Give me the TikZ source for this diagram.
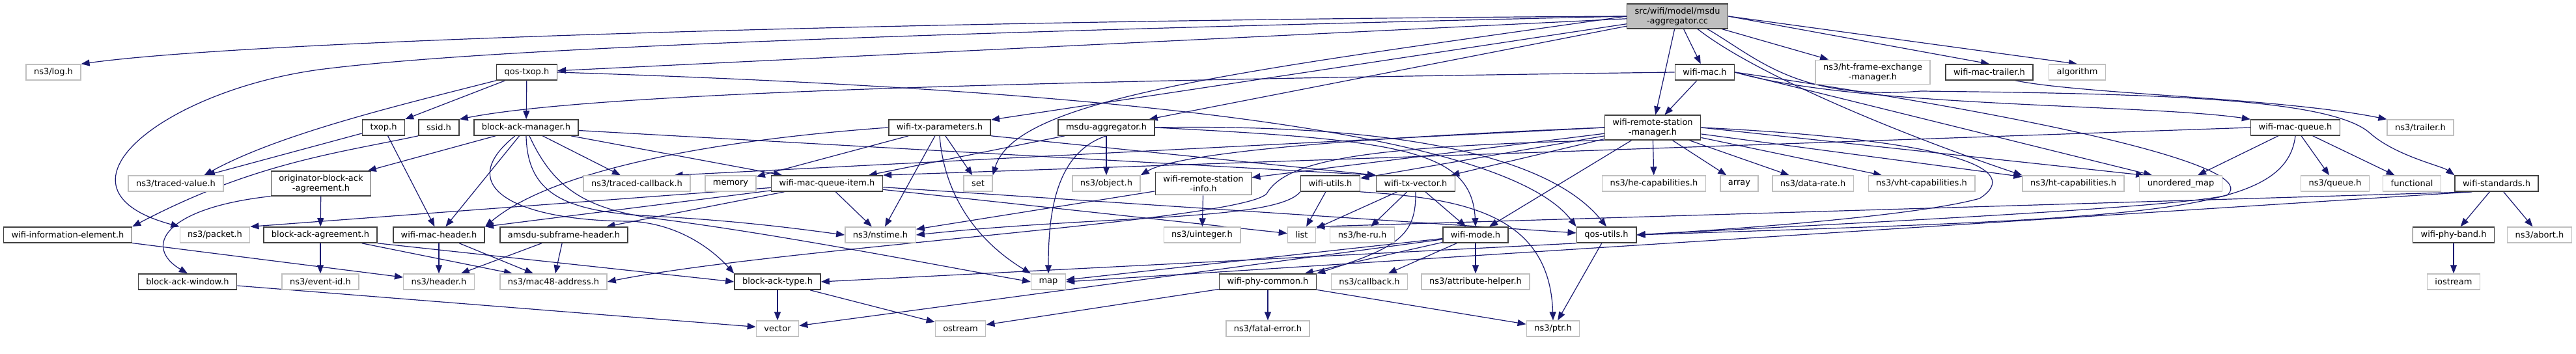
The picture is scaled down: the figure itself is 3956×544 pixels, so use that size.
\documentclass[tikz,border=0pt]{standalone}
\usepackage{fontspec}
\setmainfont{DejaVu Sans}
\usetikzlibrary{arrows.meta,calc}
\definecolor{edgeblue}{HTML}{191970}
\definecolor{boxgrey}{HTML}{BFBFBF}
\pgfdeclarelayer{back}
\pgfsetlayers{back,main}

\begin{document}
\begin{tikzpicture}[x=0.5pt,y=-0.5pt,
  every node/.style={font=\fontsize{6.5}{7.5}\selectfont, inner xsep=6pt, inner ysep=2.5pt,
    minimum height=12pt, align=center, fill=white},
  hfile/.style={draw=black!75, line width=0.8pt},
  sysfile/.style={draw=boxgrey, line width=0.7pt},
  dep/.style={draw=edgeblue, line width=0.6pt, -{Triangle[length=6.5pt,width=5pt]}}]
  \useasboundingbox (0,0) rectangle (3956,544);

  \node[hfile, fill=boxgrey] (root) at (2576,25) {src/wifi/model/msdu\\-aggregator.cc};

  \node[sysfile] (log) at (82,111) {ns3/log.h};
  \node[hfile] (qostxop) at (809,111) {qos-txop.h};
  \node[hfile] (wifimac) at (2618,111) {wifi-mac.h};
  \node[sysfile] (htfem) at (2876,111) {ns3/ht-frame-exchange\\-manager.h};
  \node[hfile] (trailer) at (3055,111) {wifi-mac-trailer.h};
  \node[sysfile] (algorithm) at (3190,111) {algorithm};

  \node[hfile] (txop) at (589,196) {txop.h};
  \node[hfile] (ssid) at (674,196) {ssid.h};
  \node[hfile] (bam) at (808,196) {block-ack-manager.h};
  \node[hfile] (txparams) at (1443,196) {wifi-tx-parameters.h};
  \node[hfile] (msduagg) at (1699,196) {msdu-aggregator.h};
  \node[hfile] (wrsm) at (2538,196) {wifi-remote-station\\-manager.h};
  \node[hfile] (macqueue) at (3525,196) {wifi-mac-queue.h};
  \node[sysfile] (nstrailer) at (3717,196) {ns3/trailer.h};

  \node[sysfile] (tracedvalue) at (270,282) {ns3/traced-value.h};
  \node[hfile] (obaa) at (493,282) {originator-block-ack\\-agreement.h};
  \node[sysfile] (tracedcb) at (978,282) {ns3/traced-callback.h};
  \node[sysfile] (memory) at (1122,282) {memory};
  \node[hfile] (queueitem) at (1270,282) {wifi-mac-queue-item.h};
  \node[sysfile] (set) at (1502,282) {set};
  \node[sysfile] (object) at (1699,282) {ns3/object.h};
  \node[hfile] (wrsi) at (1848,282) {wifi-remote-station\\-info.h};
  \node[hfile] (utils) at (2043,282) {wifi-utils.h};
  \node[hfile] (txvector) at (2174,282) {wifi-tx-vector.h};
  \node[sysfile] (hecap) at (2540,282) {ns3/he-capabilities.h};
  \node[sysfile] (array) at (2671,282) {array};
  \node[sysfile] (datarate) at (2784,282) {ns3/data-rate.h};
  \node[sysfile] (vhtcap) at (2951,282) {ns3/vht-capabilities.h};
  \node[sysfile] (htcap) at (3184,282) {ns3/ht-capabilities.h};
  \node[sysfile] (umap) at (3349,282) {unordered\_map};
  \node[sysfile] (queue) at (3586,282) {ns3/queue.h};
  \node[sysfile] (functional) at (3704,282) {functional};
  \node[hfile] (standards) at (3834,282) {wifi-standards.h};

  \node[hfile] (wie) at (104,361) {wifi-information-element.h};
  \node[sysfile] (packet) at (330,361) {ns3/packet.h};
  \node[hfile] (baa) at (492,361) {block-ack-agreement.h};
  \node[hfile] (macheader) at (674,361) {wifi-mac-header.h};
  \node[hfile] (amsdu) at (866,361) {amsdu-subframe-header.h};
  \node[sysfile] (nstime) at (1352,361) {ns3/nstime.h};
  \node[sysfile] (uinteger) at (1846,361) {ns3/uinteger.h};
  \node[sysfile] (list) at (1999,361) {list};
  \node[sysfile] (heru) at (2092,361) {ns3/he-ru.h};
  \node[hfile] (mode) at (2266,361) {wifi-mode.h};
  \node[hfile] (qosutils) at (2467,361) {qos-utils.h};
  \node[hfile] (phyband) at (3768,361) {wifi-phy-band.h};
  \node[sysfile] (abort) at (3900,361) {ns3/abort.h};

  \node[hfile] (bawindow) at (288,433) {block-ack-window.h};
  \node[sysfile] (eventid) at (492,433) {ns3/event-id.h};
  \node[sysfile] (header) at (674,433) {ns3/header.h};
  \node[sysfile] (mac48) at (850,433) {ns3/mac48-address.h};
  \node[hfile] (batype) at (1194,433) {block-ack-type.h};
  \node[sysfile] (map) at (1610,433) {map};
  \node[hfile] (phycommon) at (1947,433) {wifi-phy-common.h};
  \node[sysfile] (callback) at (2103,433) {ns3/callback.h};
  \node[sysfile] (attrhelper) at (2266,433) {ns3/attribute-helper.h};
  \node[sysfile] (iostream) at (3768,433) {iostream};

  \node[sysfile] (vector) at (1194,505) {vector};
  \node[sysfile] (ostream) at (1475,505) {ostream};
  \node[sysfile] (fatalerror) at (1947,505) {ns3/fatal-error.h};
  \node[sysfile] (ptr) at (2385,505) {ns3/ptr.h};

  \begin{pgfonlayer}{back}
  \foreach \a/\b in {root/qostxop, root/txparams, root/msduagg, root/wrsm, root/wifimac, root/htfem,
      wifimac/wrsm, qostxop/txop, qostxop/bam, txop/tracedvalue, txop/macheader,
      bam/obaa, bam/macheader, bam/tracedcb, bam/queueitem, obaa/baa, baa/eventid, baa/mac48,
      wie/header, bawindow/vector, macheader/header, macheader/mac48, amsdu/header, amsdu/mac48,
      queueitem/amsdu, queueitem/nstime, queueitem/list, queueitem/qosutils,
      txparams/memory, txparams/nstime, txparams/set, msduagg/object, msduagg/queueitem,
      wrsm/wrsi, wrsm/utils, wrsm/txvector, wrsm/hecap, wrsm/array, wrsm/datarate, wrsm/vhtcap,
      wrsm/htcap, wrsm/mode, wrsi/uinteger, wrsi/nstime, utils/list,
      txvector/list, txvector/heru, txvector/mode,
      mode/phycommon, mode/callback, mode/attrhelper, mode/map, mode/vector, qosutils/ptr,
      phycommon/fatalerror, phycommon/ptr, phycommon/ostream, batype/vector, batype/ostream,
      standards/phyband, standards/abort, phyband/iostream,
      macqueue/umap, macqueue/queue, macqueue/functional}
    \draw[dep] (\a) -- (\b);

  % longer routes
  \draw[dep] (root.west) .. controls (1500,30) and (400,60) .. (log.north east);
  \draw[dep] (root.west) .. controls (1200,55) and (700,80) .. (490,107)
    .. controls (250,140) and (60,290) .. (packet.north west);
  \draw[dep] (root.west) .. controls (1900,110) and (1560,150) .. (set.north east);
  \draw[dep] ($(root.south)+(31,0)$) .. controls (2690,110) and (2900,200) .. (htcap.north west);
  \draw[dep] ($(root.south)+(46,0)$) .. controls (2700,90) and (2760,155) .. (2950,140)
    .. controls (3300,144) and (3580,150) .. (3640,205)
    .. controls (3680,240) and (3750,255) .. (standards.north west);
  \draw[dep] (root.east) -- (trailer.north);
  \draw[dep] (root.east) -- (algorithm.north);

  \draw[dep] (wifimac.west) .. controls (1500,125) and (900,145) .. (ssid.north east);
  \draw[dep] (wifimac.east) .. controls (3200,190) and (3470,260) .. (3420,300)
    .. controls (3340,320) and (2800,345) .. (qosutils.east);
  \draw[dep] (wifimac.east) .. controls (2850,165) and (3300,160) .. (macqueue.north west);
  \draw[dep] (wifimac.east) -- ($(umap.north west)+(20,0)$);

  \draw[dep] (qostxop.south west) .. controls (620,160) and (430,205) .. ($(tracedvalue.north east)+(-30,0)$);
  \draw[dep] (qostxop.east) .. controls (1600,135) and (2300,190) .. (qosutils.north west);
  \draw[dep] (ssid.south west) .. controls (520,235) and (390,250) .. (wie.north east);

  \draw[dep] (bam.south) .. controls (810,300) and (870,325) .. (1000,332)
    .. controls (1150,340) and (1250,355) .. (nstime.west);
  \draw[dep] ($(bam.south)+(-17,0)$) .. controls (690,290) and (800,340) .. (970,340)
    .. controls (1050,345) and (1100,390) .. (batype.north west);
  \draw[dep] ($(bam.south)+(5,0)$) .. controls (850,290) and (900,320) .. (1000,335)
    .. controls (1200,360) and (1450,410) .. (map.west);
  \draw[dep] (bam) -- (txvector.north west);

  \draw[dep] (obaa.south west) .. controls (250,320) and (220,380) .. (bawindow.north);
  \draw[dep] (baa.south east) -- (batype.west);
  \draw[dep] (queueitem) -- (packet.north east);
  \draw[dep] (queueitem) -- (macheader.north east);

  \draw[dep] (txparams.west) .. controls (1100,215) and (850,260) .. (macheader.north east);
  \draw[dep] (txparams.south) .. controls (1450,300) and (1500,370) .. (map.north west);
  \draw[dep] (txparams.south east) -- (txvector.north west);

  \draw[dep] (msduagg.south) .. controls (1620,235) and (1610,330) .. (map.north);
  \draw[dep] (msduagg.east) .. controls (2150,215) and (2260,230) .. (mode.north);
  \draw[dep] (msduagg.east) .. controls (2150,190) and (2380,240) .. (qosutils.north);

  \draw[dep] (wrsm.south west) .. controls (2100,225) and (1975,245) .. (1945,298)
    .. controls (1900,340) and (1200,380) .. (mac48.east);
  \draw[dep] (wrsm.west) .. controls (2000,215) and (1800,240) .. (object.north east);
  \draw[dep] (wrsm.west) -- ($(tracedcb.north east)+(-25,0)$);
  \draw[dep] (wrsm.east) -- ($(umap.north west)+(8,0)$);
  \draw[dep] (wrsm.east) .. controls (3000,215) and (3110,260) .. (3040,305)
    .. controls (2950,330) and (2700,350) .. (qosutils.east);

  \draw[dep] (utils.south east) .. controls (2250,305) and (2380,330) .. (ptr.north);
  \draw[dep] (utils.south west) .. controls (1960,340) and (1700,330) .. (nstime.east);
  \draw[dep] (txvector.south) .. controls (2175,360) and (2150,380) .. (phycommon.north east);
  \draw[dep] (qosutils.south west) -- (batype.east);

  \draw[dep] ($(standards.south west)+(27,0)$) -- (map.east);
  \draw[dep] ($(standards.south west)+(27,0)$) -- (list.north east);
  \draw[dep] (macqueue.west) -- (queueitem.north east);
  \draw[dep] (macqueue.south) .. controls (3510,330) and (3300,335) .. (qosutils.east);
  \draw[dep] ($(trailer.south)+(40,0)$) .. controls (3200,145) and (3500,150) .. (nstrailer.north west);
  \end{pgfonlayer}
\end{tikzpicture}
\end{document}
